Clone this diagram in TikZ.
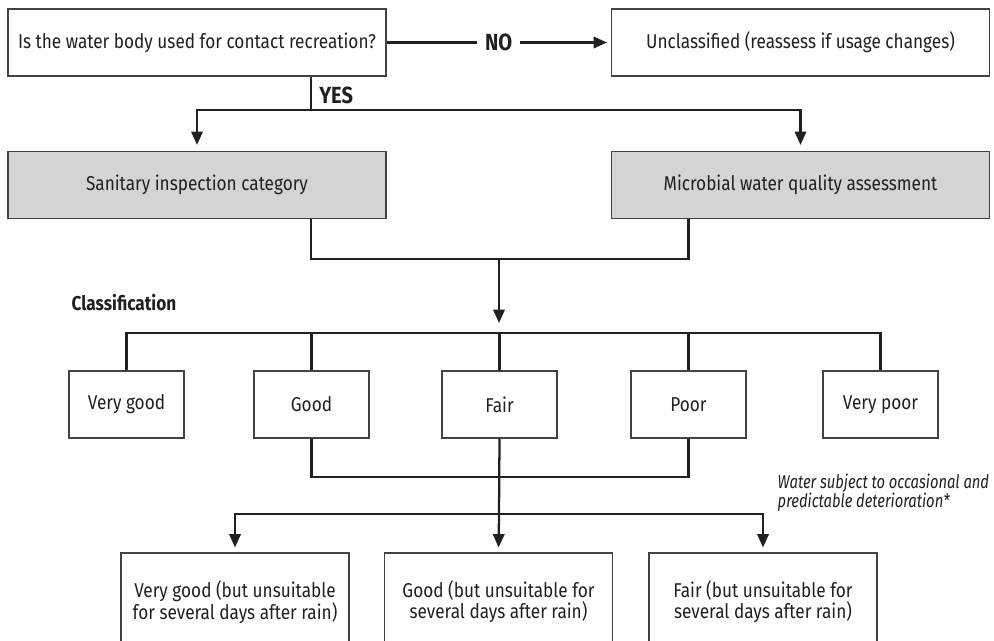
\documentclass[tikz,border=0pt]{standalone}
\usepackage{fontspec}
\setmainfont{Fira Sans}[FakeStretch=0.86]
\newfontfamily\notefont{Fira Sans}[FakeStretch=0.79]
\usetikzlibrary{arrows.meta, positioning, calc}
\definecolor{ink}{HTML}{231F20}
\definecolor{panel}{HTML}{D3D4D6}

\begin{document}
\begin{tikzpicture}[
    x=0.75pt, y=-0.75pt,
    font=\fontsize{15}{14.3}\selectfont,
    box/.style={rectangle, draw=ink!85, line width=0.8pt, text=ink, align=center, inner sep=0pt},
    wide/.style={box, minimum width=283.5pt, minimum height=50.25pt},
    grade/.style={box, minimum width=86.25pt, minimum height=50.25pt},
    rain/.style={box, minimum width=171pt, minimum height=73.5pt},
    line/.style={draw=ink, line width=1.7pt},
    arrow/.style={line, -{Triangle[width=8.5pt, length=10pt]}},
    tag/.style={text=ink, font=\fontsize{15}{14.3}\selectfont\bfseries},
    bigtag/.style={tag, font=\fontsize{17.5}{14.3}\selectfont\bfseries}
]
\useasboundingbox (0,0) rectangle (994,640);
\clip (0,0) rectangle (994,640);

% Nodes
\node[wide] (recr) at (197,42.5) {Is the water body used for contact recreation?};
\node[wide] (uncl) at (800.5,42.5) {Unclassified (reassess if usage changes)};
\node[wide, fill=panel] (sanit) at (197,185) {Sanitary inspection category};
\node[wide, fill=panel] (microb) at (800.5,185) {Microbial water quality assessment};

\node[tag, anchor=west] (classif) at (67,303) {Classification};
\node[grade] (vgood) at (126.5,404.5) {Very good};
\node[grade] (good) at (311.5,404.5) {Good};
\node[grade] (fair) at (499.5,404.5) {Fair};
\node[grade] (poor) at (688.5,404.5) {Poor};
\node[grade] (vpoor) at (880.5,404.5) {Very poor};

\node[text=ink, anchor=west, align=left, font=\fontsize{14}{14.3}\selectfont\notefont\itshape] (note) at (773,492.5)
    {Water subject to occasional and\\predictable deterioration*};

\node[rain] (rvgood) at (235,602) {Very good (but unsuitable\\for several days after rain)};
\node[rain] (rgood) at (498.5,602) {Good (but unsuitable for\\several days after rain)};
\node[rain] (rfair) at (763,602) {Fair (but unsuitable for\\several days after rain)};

\coordinate (yesfork) at (311,110);
\coordinate (join) at (499,259);
\coordinate (busy) at (499,333);
\coordinate (join2) at (499,477);
\coordinate (bus2) at (499,514);

% Arrows
\draw[arrow, shorten >=3pt] (recr) -- node[bigtag, fill=white, inner xsep=6pt] {NO} (uncl);
\draw[line] (recr.south -| yesfork) -- node[bigtag, right=2pt, pos=0.55] {YES} (yesfork);
\draw[arrow, shorten >=4.5pt] (yesfork) -| (sanit.north);
\draw[arrow, shorten >=4.5pt] (yesfork) -| (microb.north);

\draw[line] (sanit.south -| yesfork) |- (join) -| (microb.south -| poor.south);
\draw[arrow, shorten >=7.5pt] (join) -- (busy);
\draw[line] (vgood.north) |- (busy) -| (vpoor.north);
\foreach \g in {good, fair, poor}
    \draw[line] (\g.north) -- (\g.north |- busy);

\draw[line] (good.south) |- (join2) -| (poor.south);
\draw[line] (fair.south) -- (bus2);
\draw[arrow, shorten >=3.75pt] (bus2) -| (rvgood.north);
\draw[arrow, shorten >=3.75pt] (bus2) -- (rgood.north);
\draw[arrow, shorten >=3.75pt] (bus2) -| (rfair.north);

\end{tikzpicture}
\end{document}
